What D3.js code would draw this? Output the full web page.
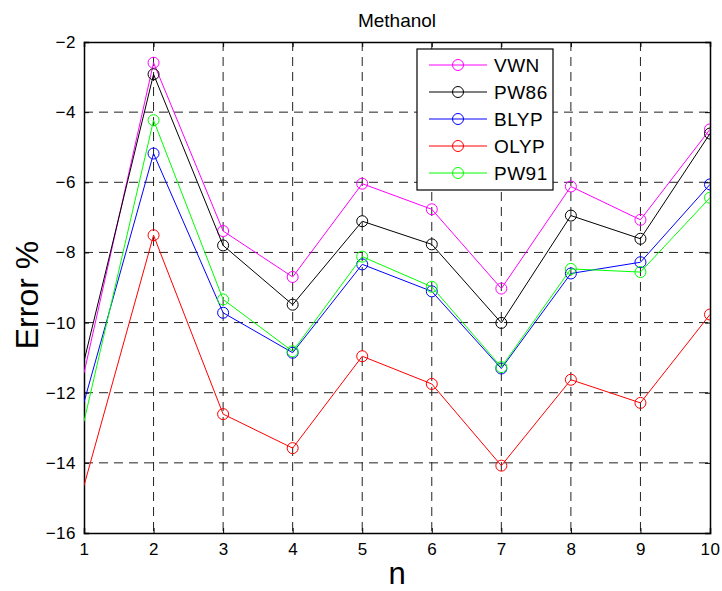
<!DOCTYPE html>
<html>
<head>
<meta charset="utf-8">
<script src="https://cdn.jsdelivr.net/npm/d3@7/dist/d3.min.js"></script>
<style>
    body { margin: 0; background: #fff; }
    text { font-family: "Liberation Sans", Arial, Helvetica, sans-serif; fill: #000; }
</style>
</head>
<body>
<div id="chart"></div>
<script>
// n values on the x axis
const nValues = [1, 2, 3, 4, 5, 6, 7, 8, 9, 10];

// error % for each functional (first value is where the line enters the axes, no marker there)
const vwn  = [-11.44, -2.59, -7.39, -8.70, -6.04, -6.77, -9.03, -6.12, -7.07, -4.49];
const pw86 = [-11.10, -2.92, -7.80, -9.49, -7.11, -7.77, -10.01, -6.95, -7.61, -4.61];
const blyp = [-12.27, -5.18, -9.72, -10.86, -8.34, -9.11, -11.31, -8.60, -8.28, -6.06];
const olyp = [-14.65, -7.51, -12.61, -13.58, -10.96, -11.75, -14.08, -11.63, -12.29, -9.77];
const pw91 = [-12.82, -4.23, -9.34, -10.82, -8.12, -8.98, -11.27, -8.47, -8.56, -6.44];

const seriesNames = ['VWN', 'PW86', 'BLYP', 'OLYP', 'PW91'];
const seriesColors = ['#ff00ff', '#000000', '#0000ff', '#ff0000', '#00ff00'];
const seriesValues = [vwn, pw86, blyp, olyp, pw91];

const xTicks = [1, 2, 3, 4, 5, 6, 7, 8, 9, 10];
const yTicks = [-16, -14, -12, -10, -8, -6, -4, -2];

const W = 722, H = 591;
const margin = { top: 42, right: 12, bottom: 58, left: 84 };
const width = W - margin.left - margin.right,
    height = H - margin.top - margin.bottom;

const svg = d3.select('#chart')
    .append('svg')
    .attr('width', W)
    .attr('height', H);

const g = svg.append('g')
    .attr('transform', `translate(${margin.left}, ${margin.top})`);

// scale
const x = d3.scaleLinear().domain([1, 10]).range([0, width]);
const y = d3.scaleLinear().domain([-16, -2]).range([height, 0]);

// griglia tratteggiata
g.append('g')
    .selectAll('line')
    .data(xTicks.slice(1, -1))
    .join('line')
    .attr('x1', d => x(d)).attr('x2', d => x(d))
    .attr('y1', 0).attr('y2', height)
    .attr('stroke', '#222')
    .attr('stroke-dasharray', '9,6');

g.append('g')
    .selectAll('line')
    .data(yTicks.slice(1, -1))
    .join('line')
    .attr('y1', d => y(d)).attr('y2', d => y(d))
    .attr('x1', 0).attr('x2', width)
    .attr('stroke', '#222')
    .attr('stroke-dasharray', '9,6');

// assi stile matlab: tick interni, box completo
const axisFont = 17;
const xAxis = g.append('g')
    .attr('transform', `translate(0, ${height})`)
    .call(d3.axisBottom(x).tickValues(xTicks).tickSize(-5).tickPadding(10).tickFormat(d3.format('d')));
const yAxis = g.append('g')
    .call(d3.axisLeft(y).tickValues(yTicks).tickSize(-5).tickPadding(8).tickFormat(d3.format('d')));
g.append('g')
    .call(d3.axisTop(x).tickValues(xTicks).tickSize(-5).tickFormat(''));
g.append('g')
    .attr('transform', `translate(${width}, 0)`)
    .call(d3.axisRight(y).tickValues(yTicks).tickSize(-5).tickFormat(''));

g.selectAll('.domain').attr('stroke', '#000').attr('stroke-width', 1.5);
g.selectAll('.tick line').attr('stroke', '#000');
[xAxis, yAxis].forEach(a => a.selectAll('text')
    .style('font-size', axisFont + 'px')
    .style('font-family', '"Liberation Sans", Arial, sans-serif')
    .style('letter-spacing', '0.5px')
    .attr('fill', '#000'));
xAxis.selectAll('text').attr('dy', '0.71em');

// linee e marker
const clip = svg.append('clipPath').attr('id', 'plotclip')
    .append('rect').attr('x', 0).attr('y', 0).attr('width', width).attr('height', height);

const line = d3.line()
    .x((d, i) => x(nValues[i]))
    .y(d => y(d));

const plot = g.append('g').attr('clip-path', 'url(#plotclip)');

seriesValues.forEach((vals, k) => {
    plot.append('path')
        .datum(vals)
        .attr('d', line)
        .attr('fill', 'none')
        .attr('stroke', seriesColors[k])
        .attr('stroke-width', 1);

    plot.append('g')
        .selectAll('circle')
        .data(vals.map((v, i) => ({ n: nValues[i], v: v })).slice(1))
        .join('circle')
        .attr('cx', d => x(d.n))
        .attr('cy', d => y(d.v))
        .attr('r', 5.5)
        .attr('fill', 'none')
        .attr('stroke', seriesColors[k])
        .attr('stroke-width', 1);
});

// titolo e label
svg.append('text')
    .attr('x', margin.left + width / 2)
    .attr('y', 27)
    .attr('text-anchor', 'middle')
    .style('font-size', '19px')
    .text('Methanol');

svg.append('text')
    .attr('x', margin.left + width / 2)
    .attr('y', 584)
    .attr('text-anchor', 'middle')
    .style('font-size', '31px')
    .text('n');

svg.append('text')
    .attr('transform', 'translate(38, 295) rotate(-90)')
    .attr('text-anchor', 'middle')
    .style('font-size', '32px')
    .text('Error %');

// legenda
const legend = svg.append('g').attr('transform', 'translate(417, 49)');
legend.append('rect')
    .attr('width', 136).attr('height', 141)
    .attr('fill', '#fff')
    .attr('stroke', '#000')
    .attr('stroke-width', 1.2);

seriesNames.forEach((name, k) => {
    const ly = 16 + k * 27;
    legend.append('line')
        .attr('x1', 12).attr('x2', 70)
        .attr('y1', ly).attr('y2', ly)
        .attr('stroke', seriesColors[k]);
    legend.append('circle')
        .attr('cx', 41).attr('cy', ly).attr('r', 5.5)
        .attr('fill', 'none')
        .attr('stroke', seriesColors[k]);
    legend.append('text')
        .attr('x', 77).attr('y', ly + 7)
        .style('font-size', '19px')
        .style('letter-spacing', '0.5px')
        .text(name);
});
</script>
</body>
</html>
